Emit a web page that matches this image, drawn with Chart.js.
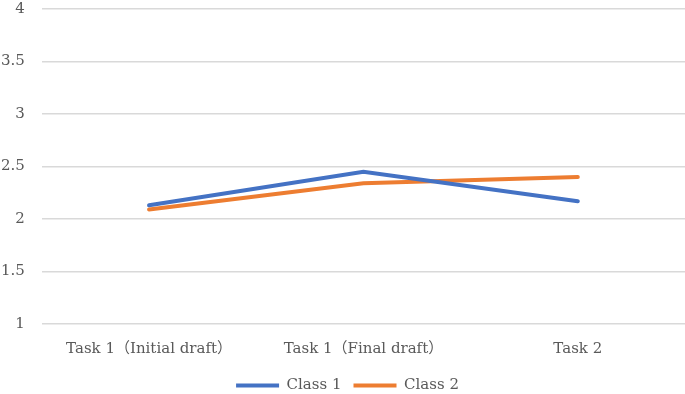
<!DOCTYPE html>
<html>
<head>
<meta charset="utf-8">
<script src="https://cdn.jsdelivr.net/npm/chart.js@4.4.1/dist/chart.umd.min.js"></script>
<style>
html,body{margin:0;padding:0;background:#fff;overflow:hidden;width:685px;height:394px;}
#wrap{width:701px;height:420px;position:absolute;left:-16px;top:-17px;}
</style>
</head>
<body>
<div id="wrap"><canvas id="c"></canvas></div>
<script>
const categories = ["Task 1（Initial draft）", "Task 1（Final draft）", "Task 2"];
const class1 = [2.13, 2.45, 2.17];
const class2 = [2.09, 2.34, 2.40];
const seriesNames = ["Class 1", "Class 2"];

const fontFamily = "'DejaVu Serif', 'Liberation Serif', 'Noto Sans CJK JP', serif";

const legendShift = {
  id: 'legendShift',
  afterLayout(chart) {
    if (chart.legend) { chart.legend.left += 13; chart.legend.right += 13; }
  }
};

new Chart(document.getElementById('c'), {
  type: 'line',
  data: {
    labels: categories,
    datasets: [
      {label: seriesNames[0], data: class1, borderColor: '#4472C4', backgroundColor: '#4472C4', borderWidth: 4, pointRadius: 0, tension: 0, borderCapStyle: 'round'},
      {label: seriesNames[1], data: class2, borderColor: '#ED7D31', backgroundColor: '#ED7D31', borderWidth: 4, pointRadius: 0, tension: 0, borderCapStyle: 'round'}
    ]
  },
  plugins: [legendShift],
  options: {
    responsive: true,
    maintainAspectRatio: false,
    animation: false,
    layout: {padding: 0},
    plugins: {
      legend: {
        position: 'bottom',
        labels: {
          usePointStyle: true,
          pointStyle: 'line',
          pointStyleWidth: 43,
          color: '#595959',
          font: {family: fontFamily, size: 15},
          padding: 12
        }
      },
      tooltip: {enabled: false}
    },
    scales: {
      x: {
        offset: true,
        grid: {display: false},
        border: {display: false},
        ticks: {color: '#595959', font: {family: fontFamily, size: 15}, maxRotation: 0, padding: 8}
      },
      y: {
        min: 1, max: 4,
        ticks: {stepSize: 0.5, color: '#595959', font: {family: fontFamily, size: 15}, padding: 17,
          callback: v => String(v)},
        grid: {color: '#d9d9d9', lineWidth: 1.5, drawTicks: false},
        border: {display: false}
      }
    }
  }
});
</script>
</body>
</html>
